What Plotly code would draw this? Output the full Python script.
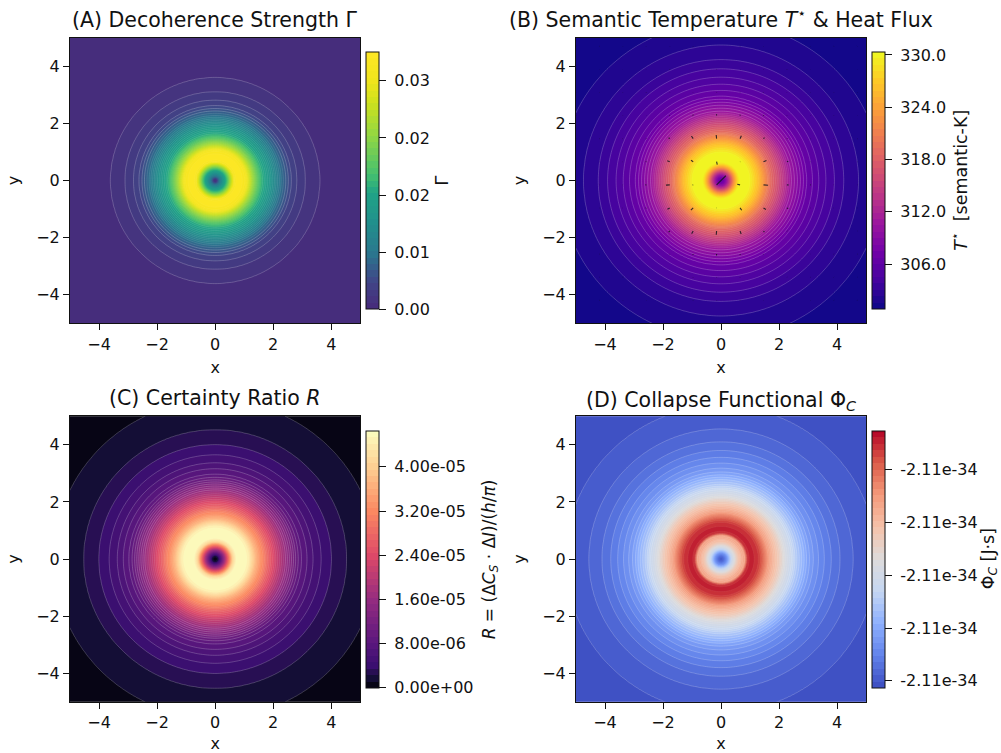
import numpy as np
import plotly.graph_objects as go

W, H = 1001, 753

# ---- radial profiles (radius, value) ----
RADIUS_A = [0, .05, .1, .25, .4, .5, .6, .68, .85, 1.05, 1.15, 1.3, 1.45, 1.6, 1.8, 2.0, 2.15, 2.29, 2.44, 2.6, 2.82, 3.1, 3.6, 4.2, 7.2]
GAMMA = [.0003, .002, .0055, .012, .018, .024, .03, .034, .0351, .033, .0295, .0245, .0205, .0172, .0142, .0112, .0088, .0068, .0052, .0036, .0026, .00176, .00088, .0003, 0]

RADIUS_B = [0, .1, .2, .3, .45, .55, .62, .8, 1.0, 1.3, 1.7, 2.0, 2.4, 2.95, 3.15, 3.37, 3.62, 3.9, 4.25, 4.74, 5.55, 7.2]
TEMP = [306.0, 307.5, 310.5, 315.0, 323.0, 327.4, 329.7, 330.3, 329.7, 325.9, 319.1, 315.6, 310.6, 306.7, 306.0, 305.25, 304.5, 303.8, 303.0, 302.3, 301.55, 300.9]

RADIUS_C = [0, .1, .2, .35, .5, .6, .75, 1.0, 1.15, 1.4, 1.8, 2.1, 2.5, 2.8, 2.97, 3.16, 3.37, 3.65, 4.0, 4.52, 5.55, 7.2]
RATIO_E5 = [0, .2, .8, 1.9, 3.2, 4.1, 4.65, 4.65, 4.47, 3.72, 2.79, 2.19, 1.49, 1.0, .81, .70, .58, .465, .35, .233, .116, .02]

RADIUS_D = [0, .1, .2, .3, .4, .55, .7, .8, .85, .9, 1.05, 1.23, 1.3, 1.4, 1.6, 1.8, 2.0, 2.2, 2.4, 2.6, 2.8, 3.0, 3.18, 3.36, 3.56, 3.8, 4.1, 4.55, 5.35, 7.2]
PHI_OFFSET = [.02, .08, .17, .32, .44, .58, .68, .72, .8, .94, .96, .94, .92, .88, .76, .66, .58, .48, .41, .33, .27, .21, .175, .15, .125, .10, .075, .05, .025, .005]

# ---- colour-bar limits and ticks ----
RANGE_A = (0.0, 0.0351)
RANGE_B = (300.83, 330.3)
RANGE_C = (0.0, 4.652)
RANGE_D = (0.0, 1.0)
TICKS_A = [0, .0078, .0156, .0234, .0312]
LABELS_A = ["0.00", "0.01", "0.02", "0.02", "0.03"]
TICKS_B = [306, 312, 318, 324, 330]
LABELS_B = ["306.0", "312.0", "318.0", "324.0", "330.0"]
TICKS_C = [0, .8, 1.6, 2.4, 3.2, 4.0]
LABELS_C = ["0.00e+00", "8.00e-06", "1.60e-05", "2.40e-05", "3.20e-05", "4.00e-05"]
TICKS_D = [.027, .232, .437, .642, .848]
LABELS_D = ["-2.11e-34"] * 5

# ---- heat-flux arrows: signed radial length, rows bottom to top, on the quiver grid ----
QUIVER_GRID = [-5, -4.192, -3.384, -2.576, -1.768, -.96, -.152, .657, 1.465, 2.273, 3.081, 3.889, 4.697]
FLUX = [
    [.006, .006, .006, .006, .006, .006, .006, .006, .006, .006, .006, .006, .006],
    [.006, .006, .006, .006, .006, .006, .006, .006, .006, .006, .006, .006, .006],
    [.006, .006, .006, .006, .006, .006, .01, .006, .006, .006, .006, .006, .006],
    [.006, .006, .006, .006, .01, .03, .05, .03, .01, .006, .006, .006, .006],
    [.006, .006, .006, .01, .05, .11, .13, .11, .05, .012, .006, .006, .006],
    [.006, .006, .006, .02, .09, .11, .01, .10, .10, .05, .01, .006, .006],
    [.006, .006, .006, .03, .13, .02, -.45, -.10, .16, .06, .02, .006, .006],
    [.006, .006, .006, .02, .09, .09, -.10, .01, .11, .05, .01, .006, .006],
    [.006, .006, .006, .01, .05, .11, .13, .11, .05, .02, .006, .006, .006],
    [.006, .006, .006, .006, .015, .03, .05, .03, .02, .006, .006, .006, .006],
    [.006, .006, .006, .006, .006, .006, .01, .006, .006, .006, .006, .006, .006],
    [.006, .006, .006, .006, .006, .006, .006, .006, .006, .006, .006, .006, .006],
    [.006, .006, .006, .006, .006, .006, .006, .006, .006, .006, .006, .006, .006],
]

# ---- colour maps ----
SCALE_A = [[0, "#472a7a"], [.1, "#414487"], [.22, "#2a788e"], [.34, "#21918c"], [.45, "#20a386"],
           [.52, "#44bf70"], [.667, "#8ed645"], [.8, "#cde11d"], [.89, "#f0e51c"], [1, "#fde725"]]
SCALE_C = [[0, "#000004"], [.0375, "#140e36"], [.0875, "#3b0f70"], [.172, "#5a177e"], [.344, "#952c80"],
           [.516, "#de4968"], [.688, "#fb8861"], [.86, "#fecf92"], [1, "#fcfdbf"]]
SCALE_D = [[0, "#3b4cc0"], [.125, "#6282ea"], [.25, "#8db0fe"], [.375, "#c5d6f2"], [.5, "#dddcdc"],
           [.625, "#f5c2aa"], [.75, "#f49a7b"], [.875, "#dc5d4a"], [1, "#b40426"]]

FONT = "DejaVu Sans"
INK = "#111111"
TICK_SIZE = 16
PAD = "\u00a0"
grid = np.linspace(-5, 5, 260)
xx, yy = np.meshgrid(grid, grid)
rr = np.hypot(xx, yy)
seam_grid = np.linspace(-5, 5, 170)
sx, sy = np.meshgrid(seam_grid, seam_grid)
sr = np.hypot(sx, sy)

panels = [
    dict(r=RADIUS_A, v=GAMMA, rng=RANGE_A, cs=SCALE_A, ticks=TICKS_A, labels=LABELS_A,
         box=(70, 360.3, 37.7, 323.3), title="(A) Decoherence Strength Γ", title_dy=-4,
         label="Γ", lab_x=442, lab_size=18),
    dict(r=RADIUS_B, v=TEMP, rng=RANGE_B, cs="Plasma", ticks=TICKS_B, labels=LABELS_B,
         box=(576, 866, 37.7, 323.3), title="(B) Semantic Temperature <i>T</i><sup>⋆</sup> &amp; Heat Flux", title_dy=-4,
         label="<i>T</i><sup>⋆</sup>  [semantic-K]", lab_x=959, lab_size=17.5),
    dict(r=RADIUS_C, v=RATIO_E5, rng=RANGE_C, cs=SCALE_C, ticks=TICKS_C, labels=LABELS_C,
         box=(70, 360.3, 416.3, 701.8), title="(C) Certainty Ratio <i>R</i>", title_dy=-4,
         label="<i>R</i> = (Δ<i>C<sub>S</sub></i> · Δ<i>I</i>)/(<i>h</i>/<i>π</i>)", lab_x=490, lab_size=17),
    dict(r=RADIUS_D, v=PHI_OFFSET, rng=RANGE_D, cs=SCALE_D, ticks=TICKS_D, labels=LABELS_D,
         box=(576, 866, 416.3, 701.8), title="(D) Collapse Functional Φ<sub><i>C</i></sub>", title_dy=0,
         label="Φ<sub><i>C</i></sub> [J·s]", lab_x=989, lab_size=17.5),
]

fig = go.Figure()
annotations = []
N_BANDS = 40
layout_axes = {}
for i, p in enumerate(panels):
    n = "" if i == 0 else str(i + 1)
    left, right, top, bottom = p["box"]
    z = np.interp(rr, p["r"], p["v"])
    lo, hi = p["rng"]
    step = (hi - lo) / N_BANDS
    bar_top, bar_bot = top + 14.6, bottom - 14
    fig.add_trace(go.Contour(
        x=grid, y=grid, z=z, xaxis="x" + n, yaxis="y" + n,
        zmin=lo, zmax=hi, colorscale=p["cs"], autocontour=False,
        contours=dict(start=lo, end=hi, size=step, coloring="fill", showlines=False),
        line=dict(width=0),
        hoverinfo="skip",
        colorbar=dict(
            x=(right + 5.5) / W, xanchor="left", thickness=13, thicknessmode="pixels",
            y=1 - bar_bot / H, yanchor="bottom", len=(bar_bot - bar_top) / H, lenmode="fraction",
            xpad=0, ypad=0, outlinewidth=1, outlinecolor=INK,
            ticks="outside", ticklen=7, tickwidth=1, tickcolor=INK,
            tickvals=p["ticks"], ticktext=[PAD + t for t in p["labels"]],
            tickfont=dict(family=FONT, size=TICK_SIZE, color=INK),
        ),
    ))
    # seams between bands: strong on the sparse low levels, faint on the dense high ones
    seams = np.where(sr < 0.6, np.nan, np.interp(sr, p["r"], p["v"]))
    k_outer = int((np.interp(2.4, p["r"], p["v"]) - lo) / step)
    k_mid = int((np.interp(1.6, p["r"], p["v"]) - lo) / step)
    for k0, k1, alpha in [(1, k_outer, .42), (k_outer + 1, k_mid, .22), (k_mid + 1, N_BANDS - 1, .10)]:
        fig.add_trace(go.Contour(
            x=seam_grid, y=seam_grid, z=seams, xaxis="x" + n, yaxis="y" + n, showscale=False,
            zmin=lo, zmax=hi, colorscale=p["cs"], autocontour=False,
            contours=dict(start=lo + k0 * step, end=lo + k1 * step, size=step, coloring="none"),
            line=dict(width=0.5, color=f"rgba(255,255,255,{alpha})"),
            hoverinfo="skip",
        ))
    layout_axes["xaxis" + n] = dict(
        domain=[left / W, right / W], range=[-5, 5], anchor="y" + n,
        tickvals=[-4, -2, 0, 2, 4], ticks="outside", ticklen=6, tickwidth=1, tickcolor=INK,
        showline=True, mirror=True, linecolor=INK, linewidth=1, showgrid=False, zeroline=False,
        tickfont=dict(family=FONT, size=TICK_SIZE, color=INK),
        title=dict(text="x", font=dict(family=FONT, size=TICK_SIZE, color=INK), standoff=9),
    )
    layout_axes["yaxis" + n] = dict(
        domain=[1 - bottom / H, 1 - top / H], range=[-5, 5], anchor="x" + n,
        tickvals=[-4, -2, 0, 2, 4], ticks="outside", ticklen=6, tickwidth=1, tickcolor=INK,
        showline=True, mirror=True, linecolor=INK, linewidth=1, showgrid=False, zeroline=False,
        tickfont=dict(family=FONT, size=TICK_SIZE, color=INK),
        title=dict(text="y", font=dict(family=FONT, size=TICK_SIZE, color=INK), standoff=12),
    )
    annotations.append(dict(
        text=p["title"], x=(left + right) / 2 / W, y=1 - (top + p["title_dy"]) / H, xref="paper", yref="paper",
        xanchor="center", yanchor="bottom", showarrow=False,
        font=dict(family=FONT, size=20.5, color=INK),
    ))
    annotations.append(dict(
        text=p["label"], x=p["lab_x"] / W, y=1 - (bar_top + bar_bot) / 2 / H, xref="paper", yref="paper",
        xanchor="center", yanchor="middle", textangle=-90, showarrow=False,
        font=dict(family=FONT, size=p["lab_size"], color=INK),
    ))

# heat-flux arrows of panel B
qx, qy = [], []
for j, y0 in enumerate(QUIVER_GRID):
    for k, x0 in enumerate(QUIVER_GRID):
        d = np.hypot(x0, y0)
        m = FLUX[j][k]
        qx += [x0, x0 + m * x0 / d, None]
        qy += [y0, y0 + m * y0 / d, None]
fig.add_trace(go.Scatter(x=qx, y=qy, mode="lines", xaxis="x2", yaxis="y2", showlegend=False,
                         line=dict(color="rgba(20,20,30,0.85)", width=1.1), hoverinfo="skip"))

fig.update_layout(
    width=W, height=H, margin=dict(l=0, r=0, t=0, b=0),
    paper_bgcolor="white", plot_bgcolor="white", showlegend=False,
    font=dict(family=FONT, color=INK), annotations=annotations, **layout_axes,
)
fig.write_html("out.html", config={"displayModeBar": False},
               post_script="document.body.style.margin='0';document.body.style.overflow='hidden';")
